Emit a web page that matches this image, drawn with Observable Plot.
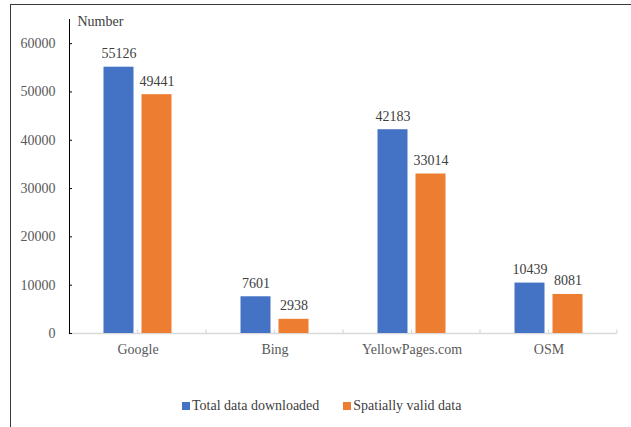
<!DOCTYPE html>
<html><head><meta charset="utf-8">
<script src="https://cdn.jsdelivr.net/npm/d3@7"></script>
<script src="https://cdn.jsdelivr.net/npm/@observablehq/plot@0.6"></script>
<style>
body{margin:0;background:#fff;}
#wrap{position:relative;width:631px;height:427px;overflow:hidden;font-family:"Liberation Serif","Times New Roman",serif;}
#chart{position:absolute;left:0;top:0;}
#border{position:absolute;left:9.5px;top:4px;width:800px;height:600px;border-left:1.5px solid #3a3a3a;border-top:1.5px solid #3a3a3a;pointer-events:none;}
#legend{position:absolute;left:182px;top:398px;display:flex;align-items:center;font-size:14px;color:#404040;white-space:nowrap;}
#legend .item{display:flex;align-items:center;margin-right:24px;}
#legend .sw{width:8px;height:8px;margin-right:2px;}
</style>
</head><body>
<div id="wrap"><div id="chart"></div><div id="legend"></div><div id="border"></div></div>
<script>
const categories = ["Google", "Bing", "YellowPages.com", "OSM"];
const seriesNames = ["Total data downloaded", "Spatially valid data"];
const totalDownloaded = [55126, 7601, 42183, 10439];
const spatiallyValid = [49441, 2938, 33014, 8081];
const yTicks = [0, 10000, 20000, 30000, 40000, 50000, 60000];
const yTitle = ["Number"];
const colors = ["#4472C4", "#ED7D31"];

const rows = categories.flatMap((c, i) => [
  {category: c, series: seriesNames[0], value: totalDownloaded[i]},
  {category: c, series: seriesNames[1], value: spatiallyValid[i]}
]);

const chart = Plot.plot({
  width: 631, height: 390,
  marginLeft: 68.5, marginRight: 13, marginTop: 19, marginBottom: 57,
  style: {fontFamily: "'Liberation Serif','Times New Roman',serif", fontSize: "14px", background: "transparent", overflow: "visible"},
  fx: {domain: categories, padding: 0, label: null},
  x: {domain: seriesNames, paddingInner: 0.205, paddingOuter: 0.865, axis: null},
  y: {domain: [0, 65000], label: null},
  color: {domain: seriesNames, range: colors},
  marks: [
    Plot.ruleY([0], {stroke: "#d9d9d9", strokeWidth: 1.3}),
    Plot.barY(rows, {fx: "category", x: "series", y: "value", fill: "series"}),
    Plot.text(rows, {fx: "category", x: "series", y: "value", text: d => String(d.value), lineAnchor: "bottom", dy: -9, fill: "#404040"}),
    Plot.axisY({ticks: yTicks, tickFormat: d => String(d), tickSize: -3, tickPadding: 17, stroke: "#000", fill: "#595959", label: null}),
    Plot.axisFx({anchor: "bottom", tickSize: 0, tickPadding: 11, label: null, fill: "#595959", fontWeight: "normal"}),
    Plot.frame({anchor: "left", facetAnchor: "left", stroke: "#000"}),
    Plot.text(yTitle, {fx: () => categories[0], frameAnchor: "top-left", text: d => d, textAnchor: "start", lineAnchor: "middle", dx: 8, dy: 2.5, fill: "#404040"})
  ]
});
document.getElementById("chart").appendChild(chart);

// category tick marks on the horizontal axis (half-category spacing), placed via the fx and y scales
const fx = chart.scale("fx"), ys = chart.scale("y");
const y0 = ys.apply(0);
const pos = [];
categories.forEach((c, i) => {
  const s = fx.apply(c);
  if (i > 0) pos.push(s);
  pos.push(s + fx.bandwidth / 2);
});
pos.push(fx.apply(categories[categories.length - 1]) + fx.bandwidth);
d3.select(chart).append("g").selectAll("line").data(pos).join("line")
  .attr("x1", d => d).attr("x2", d => d).attr("y1", y0).attr("y2", y0 - 3.5)
  .attr("stroke", "#d9d9d9").attr("stroke-width", 1.3);

const legend = d3.select("#legend");
seriesNames.forEach((s, i) => {
  const it = legend.append("div").attr("class", "item");
  it.append("div").attr("class", "sw").style("background", colors[i]);
  it.append("span").text(s);
});
</script>
</body></html>
